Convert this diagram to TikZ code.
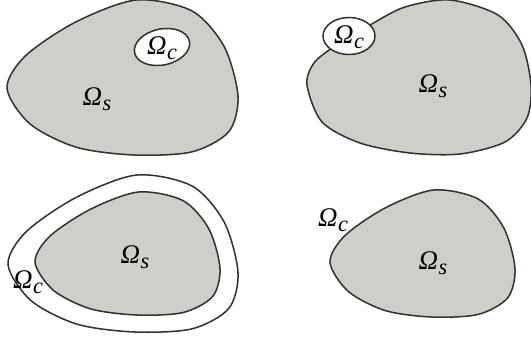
\documentclass[tikz,border=0pt]{standalone}
\usepackage{fontspec}
\setmainfont{Liberation Serif}
\definecolor{regiongray}{RGB}{208,206,201}
\definecolor{edgegray}{RGB}{50,50,50}
\newcommand\drawblob[5]{%
  \draw[#1,shift={(#2,#3)},xscale=#4,yscale=#5]
    plot[smooth cycle] coordinates {(0,0.57) (0.08,0.36) (0.30,0.14) (0.56,0) (0.80,0.07) (0.94,0.30) (1,0.62) (0.96,0.85) (0.80,0.98) (0.55,1) (0.30,0.95) (0.10,0.80)};}
\newcommand\omlab[1]{\itshape Ω\kern0.5pt\raisebox{-0.4ex}{\fontsize{19}{20}\selectfont #1}}
\begin{document}
\begin{tikzpicture}[x=0.03cm,y=-0.03cm,
  region/.style={fill=regiongray,draw=edgegray,line width=1.3pt},
  hole/.style={fill=white,draw=edgegray,line width=1.3pt},
  lab/.style={font=\fontsize{23}{26}\selectfont,inner sep=0pt}]
\useasboundingbox (0,0) rectangle (531,341);
% top-left
\drawblob{region}{7}{0}{231}{155}
\draw[hole,rotate around={12:(162,47)}] (162,47) ellipse [x radius=28,y radius=18];
\node[lab] (s1) at (97,99) {\omlab{s}};
\node[lab] (c1) at (162,48) {\omlab{c}};
% top-right
\draw[region] plot[smooth cycle] coordinates {(307,85) (314,63) (335,46) (370,25) (405,7) (450,0) (498,15) (522,45) (531,85) (527,118) (505,142) (460,154) (410,153) (360,143) (322,122)};
\draw[hole] (349,36) ellipse [x radius=26,y radius=18.5];
\node[lab] (c2) at (349,37) {\omlab{c}};
\node[lab] (s2) at (433,86) {\omlab{s}};
% bottom-left
\drawblob{hole}{8}{175}{230}{157}
\drawblob{region}{35}{192}{185}{123}
\node[lab] (s3) at (135,257) {\omlab{s}};
\node[lab] (c3) at (28,282) {\omlab{c}};
% bottom-right
\drawblob{region}{330}{190}{185}{127}
\node[lab] (c4) at (333,220) {\omlab{c}};
\node[lab] (s4) at (433,263) {\omlab{s}};
\end{tikzpicture}
\end{document}
